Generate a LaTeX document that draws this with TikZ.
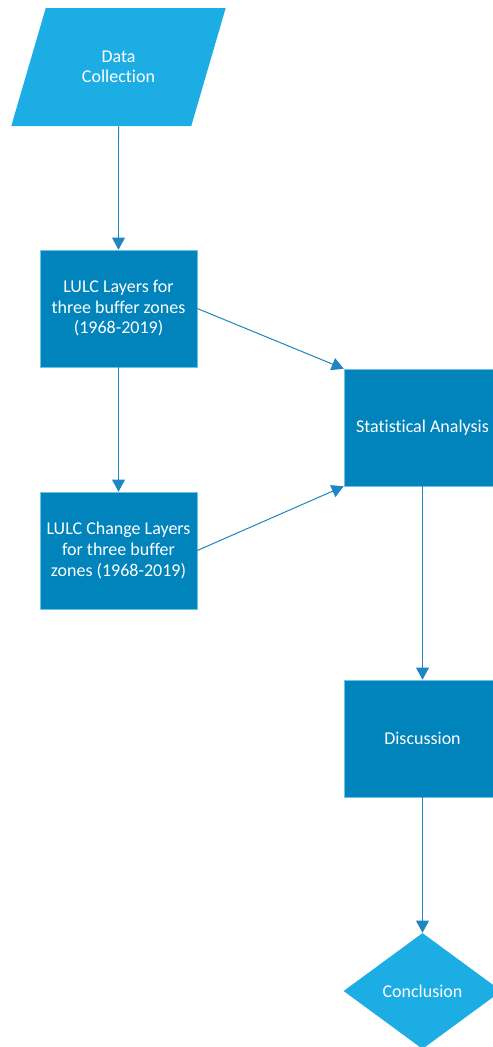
\documentclass[tikz,border=0pt]{standalone}
\usepackage{fontspec}
\setmainfont{Carlito}[Ligatures=NoCommon]
\usetikzlibrary{shapes.geometric,arrows.meta}

\definecolor{stepblue}{HTML}{0084BB}
\definecolor{ioblue}{HTML}{1CADE4}
\definecolor{edgeblue}{HTML}{6CC3E8}
\definecolor{flowblue}{HTML}{1F86C2}

\begin{document}
\begin{tikzpicture}[>={Triangle[length=3mm,width=3.2mm]},
  box/.style={draw=edgeblue, line width=0.4pt, fill=stepblue, text=white,
              minimum width=3.925cm, minimum height=2.925cm, inner sep=2pt,
              align=center, font=\fontsize{12.8}{14.6}\selectfont},
  flow/.style={->, draw=flowblue, fill=flowblue, line width=0.7pt}]

  \useasboundingbox (0,0) rectangle (12.325,-26.175);

  % Eingabe
  \node[box, fill=ioblue, draw=none, shape=trapezium, trapezium left angle=63.8,
        trapezium right angle=116.2, trapezium stretches=true,
        minimum width=5.375cm, minimum height=2.95cm] (data) at (2.9625,-1.675)
    {Data\\Collection};

  % Layer
  \node[box] (lulc) at (2.9625,-7.7125)
    {LULC Layers for\\three buffer zones\\(1968-2019)};
  \node[box] (change) at (2.9625,-13.7625)
    {LULC Change Layers\\for three buffer\\zones (1968-2019)};

  % Auswertung
  \node[box] (stat) at (10.5625,-10.6875) {Statistical Analysis};
  \node[box] (disc) at (10.5625,-18.4625) {Discussion};
  \node[box, fill=ioblue, draw=none, shape=diamond, aspect=1.36,
        minimum width=3.95cm, minimum height=2.9cm, inner sep=0pt] (concl)
    at (10.5625,-24.775) {Conclusion};

  % Pfeile
  \draw[flow] (data.south) -- (lulc.north);
  \draw[flow] (lulc.south) -- (change.north);
  \draw[flow] (lulc.east) -- (stat.north west);
  \draw[flow] (change.east) -- (stat.south west);
  \draw[flow] (stat.south) -- (disc.north);
  \draw[flow] (disc.south) -- (concl.north);
\end{tikzpicture}
\end{document}
